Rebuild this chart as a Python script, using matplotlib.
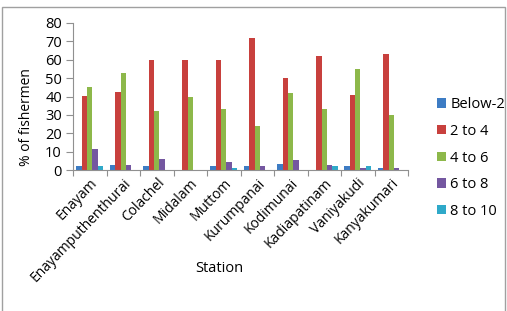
import numpy as np
import matplotlib.pyplot as plt
from matplotlib.patches import Rectangle

stations = ["Enayam", "Enayamputhenthurai", "Colachel", "Midalam", "Muttom",
            "Kurumpanai", "Kodimunai", "Kadiapatinam", "Vaniyakudi", "Kanyakumari"]
series_names = ["Below-2", "2 to 4", "4 to 6", "6 to 8", "8 to 10"]
below_2 = [2.2, 2.7, 2.2, 0, 2.2, 2.2, 3.3, 0, 2.2, 1]
two_to_4 = [40.3, 42.5, 60, 60, 60, 72, 50, 62, 41, 63]
four_to_6 = [45.2, 52.8, 32, 40, 33.2, 24, 42, 33, 55, 30]
six_to_8 = [11.4, 2.7, 6, 0, 4.4, 2.2, 5.4, 2.7, 1, 1]
eight_to_10 = [2.2, 0, 0, 0, 1, 0, 0, 2.2, 2.2, 0]
colors = ["#3D7CC4", "#C8403D", "#8DB84A", "#7457A0", "#2FA9C9"]

plt.rcParams['font.family'] = ['Open Sans', 'DejaVu Sans']

fig = plt.figure(figsize=(5.07, 3.11), dpi=100)
W, H = 507, 311
ax = fig.add_axes([73 / W, 1 - 170 / H, (408 - 73) / W, (170 - 23) / H])

# chart border (bottom edge is outside the image)
fig.patches.append(Rectangle((1.5 / W, -5 / H), (505 - 1.5) / W, (311 - 7 + 5) / H, transform=fig.transFigure,
                             fill=False, edgecolor="#a0a0a0", linewidth=1.0))

x = np.arange(len(stations))
bw = 0.16
data = [below_2, two_to_4, four_to_6, six_to_8, eight_to_10]
for i, (vals, c, name) in enumerate(zip(data, colors, series_names)):
    ax.bar(x + (i - 2) * bw, vals, width=bw, color=c, label=name, linewidth=0)

ax.set_xlim(-0.5, len(stations) - 0.5)
ax.set_ylim(0, 80)
ax.set_yticks(range(0, 81, 10))
ax.set_xticks(np.arange(-0.5, len(stations), 1), minor=False)
ax.set_xticklabels([])
ax.set_xticks(x, minor=True)
ax.set_xticklabels(stations, minor=True, rotation=46, ha="right", rotation_mode="anchor", fontsize=10)
ax.tick_params(axis="x", which="minor", length=0, pad=4)
ax.tick_params(axis="x", which="major", length=4, color="#909090")
ax.tick_params(axis="y", length=5, color="#909090", labelsize=10.5, pad=3)
for s in ["top", "right"]:
    ax.spines[s].set_visible(False)
for s in ["left", "bottom"]:
    ax.spines[s].set_color("#909090")

fig.text(27 / W, 1 - 117 / H, "% of fishermen", rotation=90, ha="center", va="center", fontsize=10)
fig.text(219 / W, 1 - 268 / H, "Station", ha="center", va="center", fontsize=10.5)

leg = ax.legend(loc="center left", frameon=False, fontsize=10.5, handlelength=0.6, handleheight=0.6,
                labelspacing=0.8, handletextpad=0.3, borderpad=0)
leg.set_bbox_to_anchor(((430 - 73) / (408 - 73), (170 - 158) / 147), transform=ax.transAxes)

fig.savefig("out.png", dpi=100)
